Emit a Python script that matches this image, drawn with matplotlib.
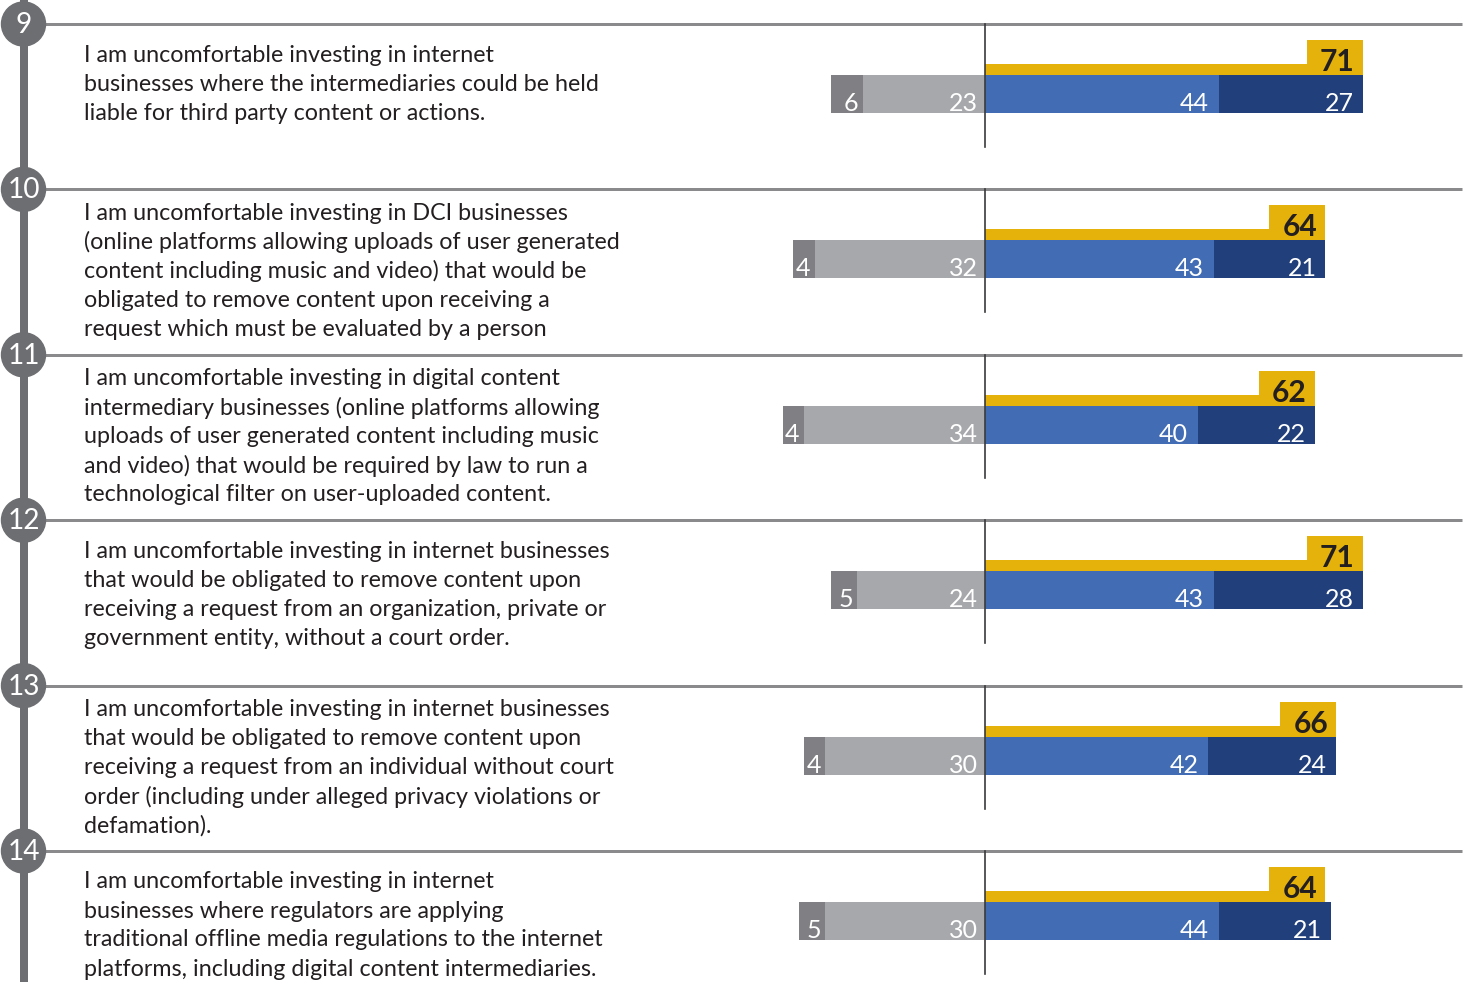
import matplotlib
matplotlib.use("Agg")
import matplotlib.pyplot as plt
from matplotlib.patches import Circle

plt.rcParams["font.family"] = ["Lato", "DejaVu Sans"]

# ---- data ----
question_no = [9, 10, 11, 12, 13, 14]
strongly_disagree = [6, 4, 4, 5, 4, 5]
disagree = [23, 32, 34, 24, 30, 30]
agree = [44, 43, 40, 43, 42, 44]
strongly_agree = [27, 21, 22, 28, 24, 21]
total_agree = [71, 64, 62, 71, 66, 64]
statements = [
    "I am uncomfortable investing in internet\nbusinesses where the intermediaries could be held\nliable for third party content or actions.",
    "I am uncomfortable investing in DCI businesses\n(online platforms allowing uploads of user generated\ncontent including music and video) that would be\nobligated to remove content upon receiving a\nrequest which must be evaluated by a person",
    "I am uncomfortable investing in digital content\nintermediary businesses (online platforms allowing\nuploads of user generated content including music\nand video) that would be required by law to run a\ntechnological filter on user-uploaded content.",
    "I am uncomfortable investing in internet businesses\nthat would be obligated to remove content upon\nreceiving a request from an organization, private or\ngovernment entity, without a court order.",
    "I am uncomfortable investing in internet businesses\nthat would be obligated to remove content upon\nreceiving a request from an individual without court\norder (including under alleged privacy violations or\ndefamation).",
    "I am uncomfortable investing in internet\nbusinesses where regulators are applying\ntraditional offline media regulations to the internet\nplatforms, including digital content intermediaries.",
]

C_DGRAY = "#808084"
C_LGRAY = "#a7a8ab"
C_BLUE = "#426db4"
C_NAVY = "#213f7b"
C_YELLOW = "#e5b10b"
C_TEXT = "#231f20"
C_RULE = "#6d6e71"

W, H = 1465, 982
PX = 5.32          # pixels per percentage point
X0 = 985           # pixel position of the zero line
ROW_TOP = 24
ROW_STEP = 165.4

def pt(px):
    return px * 72 / 100

fig = plt.figure(figsize=(W / 100, H / 100), dpi=100)
bg = fig.add_axes([0, 0, 1, 1])
bg.set_xlim(0, W)
bg.set_ylim(H, 0)
bg.axis("off")

ax = fig.add_axes([0, 0, 1, 1])
ax.set_xlim(-X0 / PX, (W - X0) / PX)
ax.set_ylim(H, 0)
ax.axis("off")

# timeline
bg.plot([23.5, 23.5], [0, H], color=C_RULE, lw=8 * 0.72, solid_capstyle="butt", zorder=1)

for i, q in enumerate(question_no):
    y0 = ROW_TOP + i * ROW_STEP
    bg.plot([45, 1462], [y0, y0], color="#8a8a8d", lw=3 * 0.72, solid_capstyle="butt", zorder=1)
    bg.add_patch(Circle((23.5, y0), 22, color=C_RULE, zorder=2))
    bg.text(23.5, y0 + 1, str(q), color="white", fontsize=pt(28), ha="center", va="center",
            zorder=3)

    lines = statements[i].split("\n")
    top = y0 + (24 if len(lines) >= 5 else 31)
    for k, line in enumerate(lines):
        bg.text(84, top + k * 29, line, color=C_TEXT, fontsize=pt(23.2), ha="left", va="center")

    # bars
    yb = y0 + 70
    hb = 38
    ax.plot([0, 0], [y0, y0 + 123], color="#3a3a3c", lw=1.2, zorder=5)
    sd, d, a, sa, t = strongly_disagree[i], disagree[i], agree[i], strongly_agree[i], total_agree[i]
    ax.barh(yb, -sd, left=-d, height=hb, color=C_DGRAY, zorder=3)
    ax.barh(yb, -d, left=0, height=hb, color=C_LGRAY, zorder=3)
    ax.barh(yb, a, left=0, height=hb, color=C_BLUE, zorder=3)
    ax.barh(yb, sa, left=a, height=hb, color=C_NAVY, zorder=3)
    ax.barh(y0 + 45.5, t, left=0, height=11, color=C_YELLOW, zorder=3)
    box_w = 56 / PX
    ax.barh(y0 + 33.5, box_w, left=t - box_w, height=35, color=C_YELLOW, zorder=3)

    base = y0 + 87
    lab = dict(color="white", fontsize=pt(25), ha="right", va="baseline", zorder=6)
    ax.text(-d - 4.5 / PX, base, str(sd), **lab)
    ax.text(-7 / PX, base, str(d), **lab)
    ax.text(a - 10 / PX, base, str(a), **lab)
    ax.text(a + sa - 9 / PX, base, str(sa), **lab)
    ax.text(t - 8 / PX, y0 + 47, str(t), color=C_TEXT, fontsize=pt(30), fontweight="bold",
            ha="right", va="baseline", zorder=6)

fig.savefig("out.png", dpi=100)
